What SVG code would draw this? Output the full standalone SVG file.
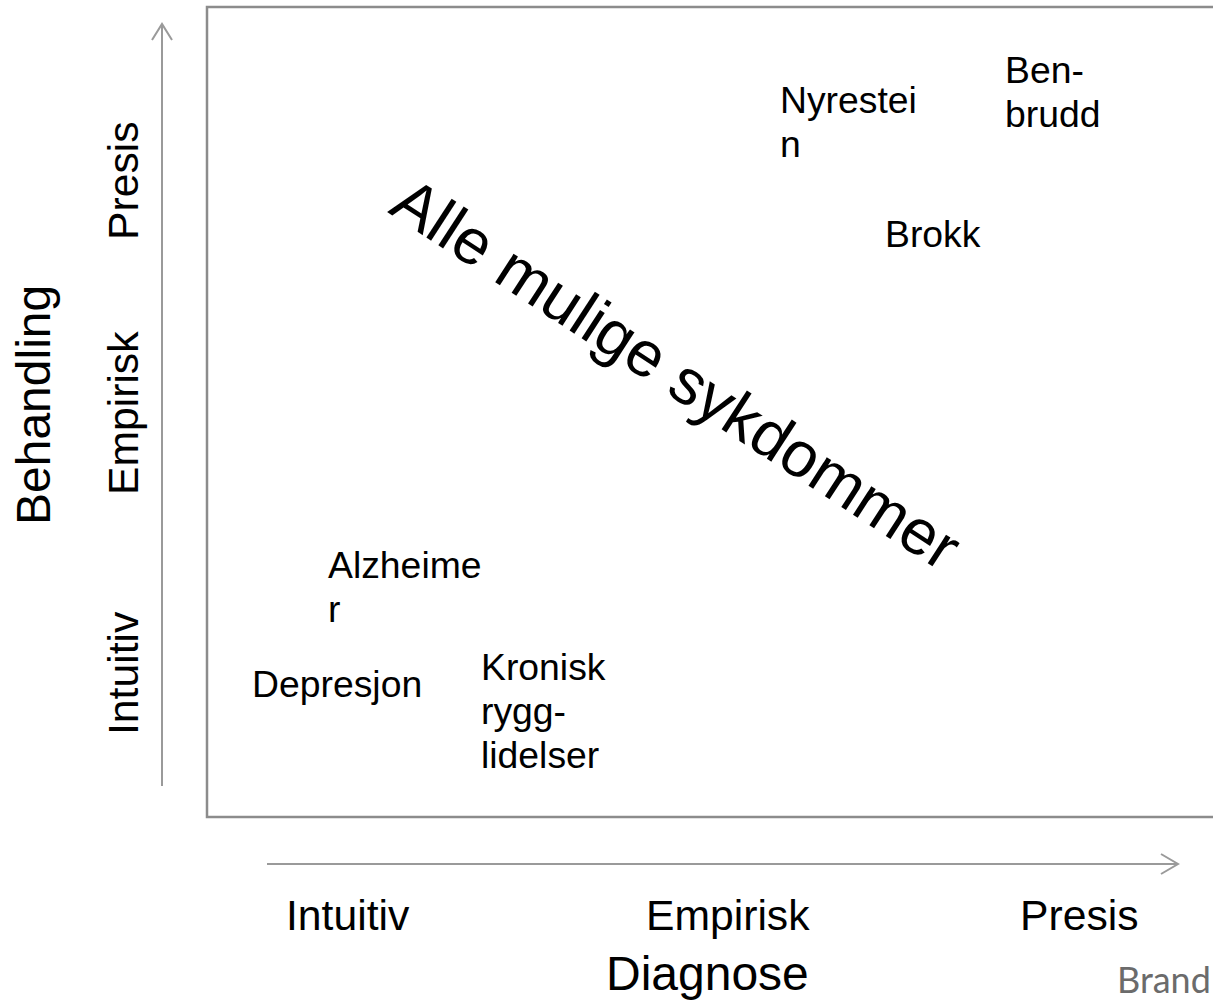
<svg xmlns="http://www.w3.org/2000/svg" width="1213" height="1002" viewBox="0 0 1213 1002">
<style>
.t{font-family:"Liberation Sans",Arial,sans-serif;fill:#000}
.lab{font-size:42.67px}
.big{font-size:48px}
.node{font-size:37.33px}
.ax{stroke:#9a9a9a;stroke-width:2;fill:none}
</style>
<rect width="1213" height="1002" fill="#fff"/>
<g id="frame"><rect x="207" y="7" width="1030" height="810" fill="none" stroke="#8c8c8c" stroke-width="2.5"/></g>
<g id="connectors">
<path class="ax" d="M162 786 V24 M152 40 L162 24 L172 40"/>
<path class="ax" d="M267 864 H1178 M1161 854 L1178 864 L1161 874"/>
</g>
<g id="y-axis-labels">
<text class="t big" transform="translate(50 525) rotate(-90)">Behandling</text>
<text class="t lab" transform="translate(138 240) rotate(-90)">Presis</text>
<text class="t lab" transform="translate(138 495) rotate(-90)">Empirisk</text>
<text class="t lab" transform="translate(138 735) rotate(-90)">Intuitiv</text>
</g>
<g id="x-axis-labels">
<text class="t lab" x="286" y="930">Intuitiv</text>
<text class="t lab" x="646" y="930">Empirisk</text>
<text class="t lab" x="1020" y="930">Presis</text>
<text class="t big" x="606" y="990">Diagnose</text>
</g>
<g id="center-label"><text class="t" font-size="64" transform="translate(387 212) rotate(33)">Alle mulige sykdommer</text></g>
<g id="n-nyrestein"><text class="t node" x="780" y="113">Nyrestei</text><text class="t node" x="780" y="157">n</text></g>
<g id="n-benbrudd"><text class="t node" x="1005" y="83">Ben-</text><text class="t node" x="1005" y="127">brudd</text></g>
<g id="n-brokk"><text class="t node" x="885" y="247">Brokk</text></g>
<g id="n-alzheimer"><text class="t node" x="328" y="578">Alzheime</text><text class="t node" x="328" y="622">r</text></g>
<g id="n-depresjon"><text class="t node" x="252" y="697">Depresjon</text></g>
<g id="n-kronisk"><text class="t node" x="481" y="680">Kronisk</text><text class="t node" x="481" y="724">rygg-</text><text class="t node" x="481" y="768">lidelser</text></g>
<g id="brand"><text x="1117" y="993" font-family="Lato,'Open Sans',sans-serif" font-size="36" fill="#6b6b6b">Brand</text></g>
</svg>
